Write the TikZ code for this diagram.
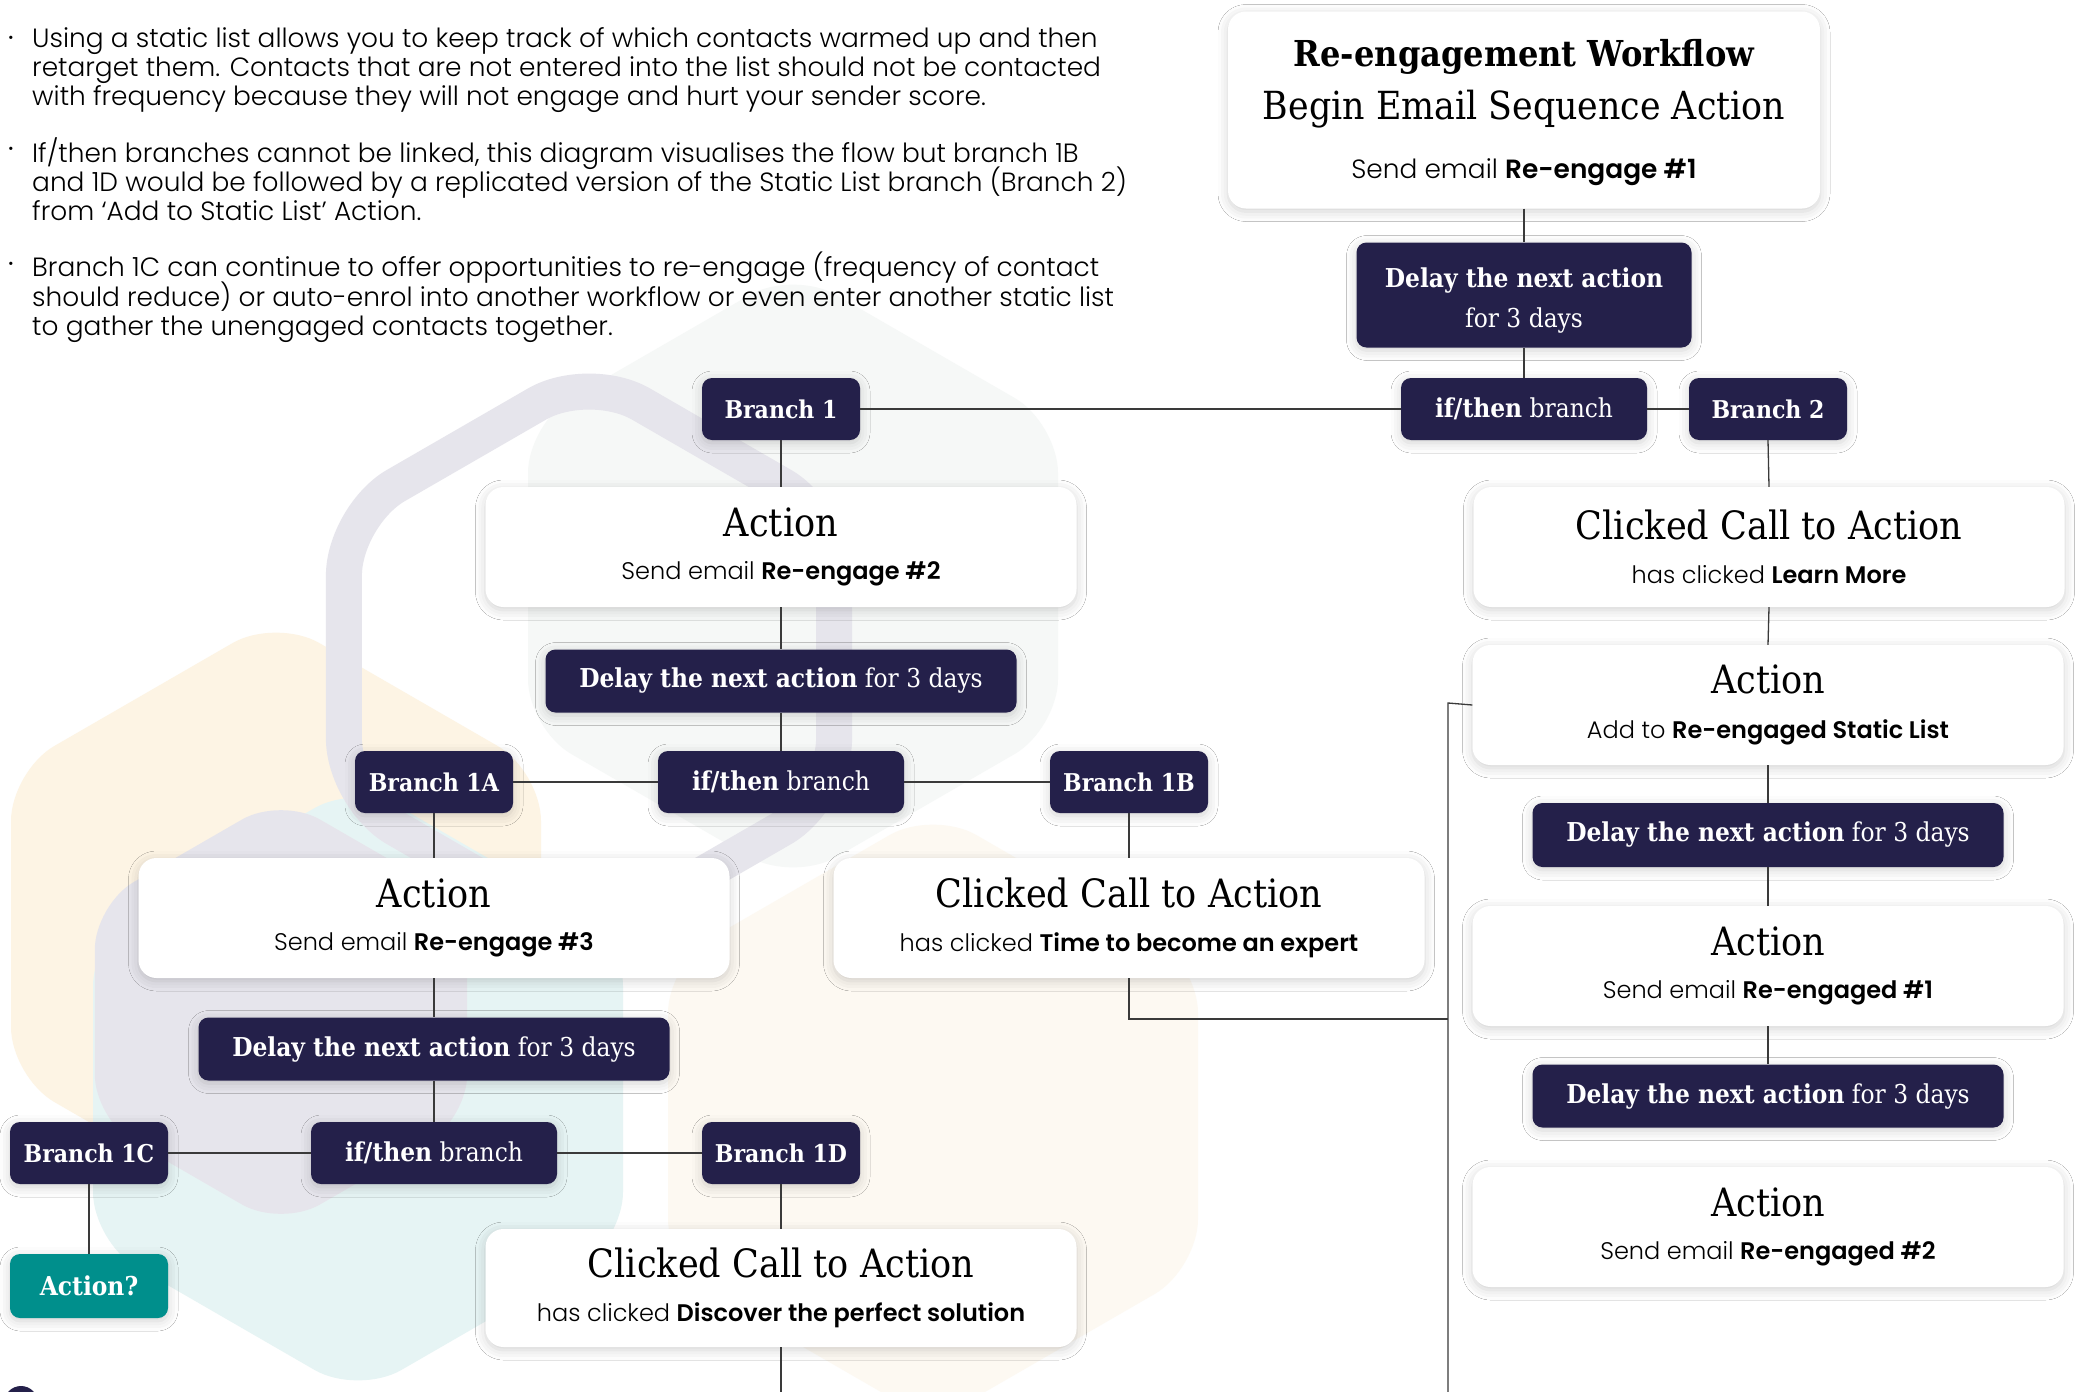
\documentclass[tikz,border=0pt]{standalone}
\usepackage{fontspec}
\setmainfont{Poppins}[UprightFont=* Light, BoldFont=* SemiBold]
\newfontfamily\slab{DejaVu Serif Condensed}
\usetikzlibrary{shadows.blur}

\definecolor{navy}{HTML}{24204A}
\definecolor{tealbox}{HTML}{008F8C}
\definecolor{lav}{HTML}{E6E5EC}
\definecolor{cream}{HTML}{FDF4E4}
\definecolor{mist}{HTML}{F6F8F7}
\definecolor{aqua}{HTML}{E6F4F4}
\definecolor{sand}{HTML}{FDF9F2}
\definecolor{wirecol}{HTML}{3A3A3A}

\newcommand{\sz}[2]{\fontsize{#1}{#2}\selectfont}
% pointy-top hexagon: style, centre x, centre y, circumradius
\newcommand{\bghex}[4]{%
  \path[#1] ({#2-0.433*#4},{#3-0.75*#4}) -- ({#2},{#3-#4})
    -- ({#2+0.866*#4},{#3-0.5*#4}) -- ({#2+0.866*#4},{#3+0.5*#4})
    -- ({#2},{#3+#4}) -- ({#2-0.866*#4},{#3+0.5*#4})
    -- ({#2-0.866*#4},{#3-0.5*#4}) -- cycle;}

\tikzset{
  softshadow/.style={blur shadow={shadow xshift=0pt, shadow yshift=-3pt,
      shadow blur radius=10pt, shadow opacity=18}},
  card/.style={fill=white, rounded corners=18pt, inner sep=0pt, align=center,
      minimum width=591pt, minimum height=120pt, softshadow},
  darkbox/.style={fill=navy, text=white, rounded corners=10pt, inner sep=0pt,
      align=center, minimum height=62pt, softshadow,
      font=\slab\sz{26}{30}},
  branchbox/.style={darkbox, minimum width=158pt, font=\slab\sz{24.5}{28}},
  ifbox/.style={darkbox, minimum width=246pt},
  delaybox/.style={darkbox, minimum width=471pt, minimum height=63pt},
  wire/.style={draw=wirecol, line width=1.3pt},
  note/.style={anchor=north west, inner sep=0pt, align=left,
      font={\sz{26.4}{29.3}\lineskiplimit=-50pt}},
  dot/.style={inner sep=0pt, font=\sz{14}{14}},
}

\begin{document}
\begin{tikzpicture}[x=1pt, y=-1pt]
\useasboundingbox (0,0) rectangle (2075,1392);
\fill[white] (0,0) rectangle (2075,1392);

% background hexagons
\bghex{fill=mist, rounded corners=50pt}{793}{576}{306}
\bghex{fill=cream, rounded corners=50pt}{276}{924}{306}
\bghex{fill=sand, rounded corners=50pt}{933}{1116}{306}
\bghex{fill=aqua, rounded corners=50pt}{358}{1089}{306}
\bghex{fill=lav, rounded corners=45pt}{281}{1012}{215}
\bghex{draw=lav, line width=36pt, rounded corners=60pt}{589}{657}{283}
\fill[navy] (21,1403) circle (17);

% notes
\node[dot] (b1) at (11,39) {•};
\node[dot] (b2) at (11,150) {•};
\node[dot] (b3) at (11,265) {•};
\node[note] (p1) at (32,27) {Using a static list allows you to keep track of which contacts warmed up and then\\
retarget them. Contacts that are not entered into the list should not be contacted\\
with frequency because they will not engage and hurt your sender score.};
\node[note] (p2) at (32,137) {If/then branches cannot be linked, this diagram visualises the flow but branch 1B\\
and 1D would be followed by a replicated version of the Static List branch (Branch 2)\\
from ‘Add to Static List’ Action.};
\node[note] (p3) at (32,252) {Branch 1C can continue to offer opportunities to re-engage (frequency of contact\\
should reduce) or auto-enrol into another workflow or even enter another static list\\
to gather the unengaged contacts together.};

% trunk
\node[card, minimum width=592pt, minimum height=197pt] (start) at (1524,110)
  {\rule{0pt}{32pt}{\slab\bfseries\sz{35.7}{36}Re-engagement Workflow}\\[15pt]
   {\slab\sz{38.7}{39}Begin Email Sequence Action}\\[29pt]
   {\sz{26.4}{27}Send email \textbf{Re-engage \#1}}};
\node[darkbox, minimum width=335pt, minimum height=105pt] (d0) at (1524,295)
  {\rule{0pt}{31pt}\textbf{Delay the next action}\\[10pt]for 3 days};
\node[ifbox] (if0) at (1524,409) {\textbf{if/then} branch};
\node[branchbox] (br2) at (1768,409) {\textbf{Branch 2}};
\node[branchbox] (br1) at (781,409) {\textbf{Branch 1}};

% branch 1
\node[card] (a2) at (781,547)
  {{\slab\sz{39}{39}Action}\\[24pt]{\sz{24}{24}Send email \textbf{Re-engage \#2}}};
\node[delaybox] (d1) at (781,681) {\textbf{Delay the next action} for 3 days};
\node[ifbox] (if1) at (781,782) {\textbf{if/then} branch};
\node[branchbox] (br1a) at (434,782) {\textbf{Branch 1A}};
\node[branchbox] (br1b) at (1129,782) {\textbf{Branch 1B}};
\node[card] (a3) at (434,918)
  {{\slab\sz{39}{39}Action}\\[24pt]{\sz{24}{24}Send email \textbf{Re-engage \#3}}};
\node[card] (c1b) at (1129,918)
  {{\slab\sz{39}{39}Clicked Call to Action}\\[24pt]{\sz{24}{24}has clicked \textbf{Time to become an expert}}};
\node[delaybox] (d2) at (434,1049) {\textbf{Delay the next action} for 3 days};
\node[ifbox] (if2) at (434,1153) {\textbf{if/then} branch};
\node[branchbox] (br1c) at (89,1153) {\textbf{Branch 1C}};
\node[branchbox] (br1d) at (781,1153) {\textbf{Branch 1D}};
\node[darkbox, fill=tealbox, minimum width=158pt, minimum height=64pt] (aq) at (89,1286) {\textbf{Action?}};
\node[card, minimum height=118pt] (c1d) at (781,1288)
  {{\slab\sz{39}{39}Clicked Call to Action}\\[24pt]{\sz{24}{24}has clicked \textbf{Discover the perfect solution}}};

% branch 2
\node[card] (c2) at (1769,547)
  {{\slab\sz{39}{39}Clicked Call to Action}\\[24pt]{\sz{24}{24}has clicked \textbf{Learn More}}};
\node[card] (al) at (1768,705)
  {{\slab\sz{39}{39}Action}\\[24pt]{\sz{24}{24}Add to \textbf{Re-engaged Static List}}};
\node[delaybox, minimum height=64pt] (d3) at (1768,835) {\textbf{Delay the next action} for 3 days};
\node[card] (e1) at (1768,966)
  {{\slab\sz{39}{39}Action}\\[24pt]{\sz{24}{24}Send email \textbf{Re-engaged \#1}}};
\node[delaybox] (d4) at (1768,1096) {\textbf{Delay the next action} for 3 days};
\node[card] (e2) at (1768,1227)
  {{\slab\sz{39}{39}Action}\\[24pt]{\sz{24}{24}Send email \textbf{Re-engaged \#2}}};

% free ends of connectors
\coordinate (busTop) at (1448,703);
\coordinate (busJoin) at (1448,1019);
\coordinate (busEnd) at (1448,1392);
\coordinate (c1dEnd) at (781,1392);

% connectors
\draw[wire] (start.south) -- (d0.north);
\draw[wire] (d0.south) -- (if0.north);
\draw[wire] (if0.east) -- (br2.west);
\draw[wire] (br1.east) -- (if0.west);
\draw[wire] (br2.south) -- (c2.north);
\draw[wire] (c2.south) -- (al.north);
\draw[wire] (al.south) -- (d3.north);
\draw[wire] (d3.south) -- (e1.north);
\draw[wire] (e1.south) -- (d4.north);
\draw[wire] (br1.south) -- (a2.north);
\draw[wire] (a2.south) -- (d1.north);
\draw[wire] (d1.south) -- (if1.north);
\draw[wire] (if1.west) -- (br1a.east);
\draw[wire] (if1.east) -- (br1b.west);
\draw[wire] (br1a.south) -- (a3.north);
\draw[wire] (a3.south) -- (d2.north);
\draw[wire] (d2.south) -- (if2.north);
\draw[wire] (if2.west) -- (br1c.east);
\draw[wire] (if2.east) -- (br1d.west);
\draw[wire] (br1c.south) -- (aq.north);
\draw[wire] (br1b.south) -- (c1b.north);
\draw[wire] (br1d.south) -- (c1d.north);
\draw[wire] (c1d.south) -- (c1dEnd);
\draw[wire] (c1b.south) |- (busJoin);
\draw[wire] (al.west) -- (busTop) -- (busEnd);
\end{tikzpicture}
\end{document}
